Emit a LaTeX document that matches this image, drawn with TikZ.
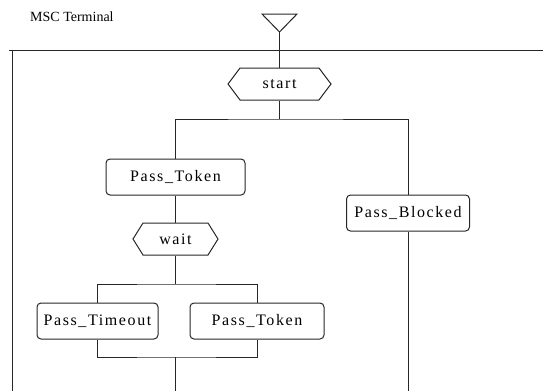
\documentclass[tikz,border=0pt]{standalone}
\usepackage{fontspec}
\setmainfont{Liberation Serif}
\newfontfamily\boxfont[LetterSpace=10]{Liberation Serif}
\usetikzlibrary{shapes.symbols}
\definecolor{ink}{HTML}{262626}
\tikzset{
  wire/.style={draw=ink, line width=1pt},
  taskbox/.style={draw=ink, line width=1pt, rounded corners=4pt, inner sep=0pt,
    font=\boxfont\fontsize{16}{18}\selectfont, text=black},
  statebox/.style={draw=ink, line width=1pt, shape=signal, signal to=west and east,
    inner sep=0pt, font=\boxfont\fontsize{16}{18}\selectfont, text=black},
}
\begin{document}
\begin{tikzpicture}[x=1pt, y=-1pt]
  \useasboundingbox (0,0) rectangle (543,391);

  % title
  \node[anchor=base west, inner sep=0pt, font=\fontsize{14}{16}\selectfont] (title) at (30,21) {MSC Terminal};

  % frame of the procedure
  \coordinate (frameL) at (9,50);
  \coordinate (frameR) at (543,50);
  \coordinate (frameBL) at (12,391);
  \draw[wire] (frameL) -- (frameR);
  \draw[wire] (12,50) -- (frameBL);

  % entry symbol
  \coordinate (apex) at (279.5,32);
  \draw[wire] (262,14) -- (297,14) -- (apex) -- cycle;

  % states and tasks
  \node[statebox, minimum width=103pt, minimum height=32pt, signal pointer angle=106] (start) at (279.5,84) {start};
  \node[taskbox, minimum width=139pt, minimum height=36pt] (pt1) at (175.5,177) {Pass\_Token};
  \node[taskbox, minimum width=123pt, minimum height=36pt] (pb) at (408,213) {Pass\_Blocked};
  \node[statebox, minimum width=85pt, minimum height=32pt, signal pointer angle=116] (wait) at (175.5,239) {wait};
  \node[taskbox, minimum width=121pt, minimum height=36pt] (pto) at (97.5,321) {Pass\_Timeout};
  \node[taskbox, minimum width=134pt, minimum height=36pt] (pt2) at (257,321) {Pass\_Token};

  % branch and join points
  \coordinate (fork1) at (279.5,119);
  \coordinate (fork2) at (175.5,284);
  \coordinate (join2) at (175.5,357);
  \coordinate (end1) at (175.5,391);
  \coordinate (end2) at (408,391);

  % connectors
  \draw[wire] (apex) -- (start.north);
  \draw[wire] (start.south) -- (fork1);
  \draw[wire] (pt1.north) |- (fork1) -| (pb.north);
  \draw[wire] (pt1.south) -- (wait.north);
  \draw[wire] (wait.south) -- (fork2);
  \draw[wire] (pto.north) |- (fork2) -| (pt2.north);
  \draw[wire] (pto.south) |- (join2) -| (pt2.south);
  \draw[wire] (join2) -- (end1);
  \draw[wire] (pb.south) -- (end2);
\end{tikzpicture}
\end{document}
